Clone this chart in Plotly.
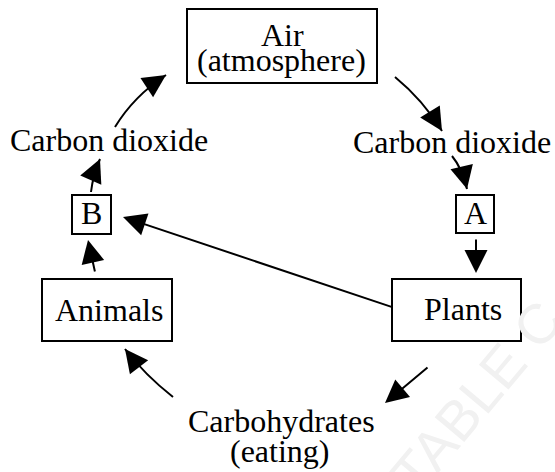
import plotly.graph_objects as go

W, H = 555, 472
FONT = "Liberation Serif"

# Node labels (boxed)
box_labels = ["Air", "(atmosphere)", "A", "B", "Animals", "Plants"]
# Free labels
free_labels = ["Carbon dioxide", "Carbon dioxide", "Carbohydrates", "(eating)"]

# Box geometry (pixel coords, y down)
boxes = [
    (187, 9, 377, 83),     # Air
    (456, 195, 494, 233),  # A
    (72, 195, 111, 234),   # B
    (42, 279, 172, 341),   # Animals
    (392, 279, 521, 341),  # Plants
]
box_text_pos = [(282, 35), (281, 60), (475, 213), (91.5, 213), (109, 310), (463, 309)]
free_text_pos = [(109, 140), (452, 142), (281, 421), (280, 451)]

# Straight arrows: (start, tip)
straight_arrows = [
    ((476, 239), (476, 273)),   # A -> Plants
    ((392, 307), (123, 217)),   # Plants -> B
    ((428, 367), (385, 403)),   # Plants -> Carbohydrates
    ((95, 272), (88, 240)),     # Animals -> B
]
# Curved arrows: (start, control, tip)
curved_arrows = [
    ((115, 127), (134, 96), (166, 75)),    # CO2 -> Air
    ((395, 77), (423, 100), (442, 131)),   # Air -> CO2
    ((452, 156), (462, 168), (467, 189)),  # CO2 -> A
    ((173, 397), (145, 375), (125, 349)),  # Carbohydrates -> Animals
    ((91, 192), (93, 175), (100, 159)),    # B -> CO2
]

fig = go.Figure()
fig.add_trace(go.Scatter(x=[0, W], y=[0, H], mode="markers", marker=dict(opacity=0),
                         hoverinfo="skip", showlegend=False))

shapes = []
for (x0, y0, x1, y1) in boxes:
    shapes.append(dict(type="rect", xref="x", yref="y", x0=x0, y0=y0, x1=x1, y1=y1,
                       line=dict(color="black", width=2), fillcolor="rgba(0,0,0,0)"))

annotations = []
# faint watermark
annotations.append(dict(x=476, y=397, xref="x", yref="y", text="TABLE C", showarrow=False,
                        textangle=-50, font=dict(family="Liberation Sans", size=56, color="#f1f1f1")))

for lab, (x, y) in zip(box_labels, box_text_pos):
    annotations.append(dict(x=x, y=y, xref="x", yref="y", text=lab, showarrow=False,
                            font=dict(family=FONT, size=32, color="black"),
                            xanchor="center", yanchor="middle"))
for lab, (x, y) in zip(free_labels, free_text_pos):
    annotations.append(dict(x=x, y=y, xref="x", yref="y", text=lab, showarrow=False,
                            font=dict(family=FONT, size=32, color="black"),
                            xanchor="center", yanchor="middle"))

HEAD = dict(arrowhead=2, arrowsize=2.3, arrowwidth=2, arrowcolor="black", standoff=0,
            font=dict(size=1), borderpad=0, text="", showarrow=True)

for (s, t) in straight_arrows:
    annotations.append(dict(x=t[0], y=t[1], ax=s[0], ay=s[1], xref="x", yref="y",
                            axref="x", ayref="y", **HEAD))

for (s, c, t) in curved_arrows:
    shapes.append(dict(type="path", xref="x", yref="y",
                       path=f"M{s[0]},{s[1]} Q{c[0]},{c[1]} {t[0]},{t[1]}",
                       line=dict(color="black", width=2)))
    dx, dy = t[0] - c[0], t[1] - c[1]
    L = (dx * dx + dy * dy) ** 0.5
    bx, by = t[0] - 10 * dx / L, t[1] - 10 * dy / L
    annotations.append(dict(x=t[0], y=t[1], ax=bx, ay=by, xref="x", yref="y",
                            axref="x", ayref="y", **HEAD))

fig.update_layout(
    width=W, height=H, autosize=False,
    margin=dict(l=0, r=0, t=0, b=0),
    paper_bgcolor="white", plot_bgcolor="white",
    xaxis=dict(range=[0, W], visible=False, fixedrange=True),
    yaxis=dict(range=[H, 0], visible=False, fixedrange=True),
    shapes=shapes, annotations=annotations, showlegend=False,
)

fig.write_html("out.html", config={"displayModeBar": False},
               post_script="document.body.style.margin='0';")
